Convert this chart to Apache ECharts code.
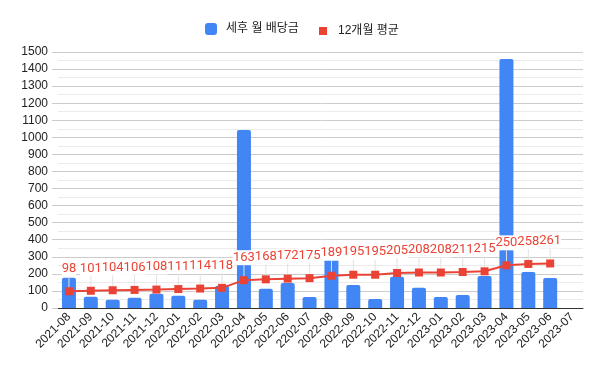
<!DOCTYPE html>
<html><head><meta charset="utf-8">
<script src="https://cdn.jsdelivr.net/npm/echarts@6/dist/echarts.min.js"></script>
<style>html,body{margin:0;padding:0;background:#fff}#c{width:600px;height:371px}</style>
</head><body><div id="c"></div>
<script>
const categories = ['2021-08','2021-09','2021-10','2021-11','2021-12','2022-01','2022-02','2022-03','2022-04','2022-05','2022-06','2202-07','2022-08','2022-09','2022-10','2022-11','2022-12','2023-01','2023-02','2023-03','2023-04','2023-05','2023-06','2023-07'];
const dividends = [177,66,49,60,84,72,49,131,1043,113,146,64,285,135,53,183,119,64,76,187,1459,211,176,null];
const avg12 = [98,101,104,106,108,111,114,118,163,168,172,175,189,195,195,205,208,208,211,215,250,258,261,null];
const yTicks = {min:0, max:1500, interval:100};

const chart = echarts.init(document.getElementById('c'));
const font = 'Arial, "Liberation Sans", "Noto Sans CJK KR", sans-serif';
chart.setOption({
  animation:false,
  textStyle:{fontFamily:font},
  legend:[
    {data:['세후 월 배당금'], left:200, top:18, itemWidth:12, itemHeight:12, icon:'roundRect',
     textStyle:{fontSize:12,color:'#222',fontFamily:font, padding:[0,0,0,4]}},
    {data:['12개월 평균'], left:314, top:20, itemWidth:8, itemHeight:8, icon:'rect',
     textStyle:{fontSize:12,color:'#222',fontFamily:font, padding:[0,0,0,6]}}
  ],
  grid:{left:58, right:17, top:52, bottom:63},
  xAxis:{type:'category', data:categories,
    axisLine:{lineStyle:{color:'#333'}}, axisTick:{show:false},
    axisLabel:{rotate:45, fontSize:12, color:'#222', interval:0, margin:7}},
  yAxis:{type:'value', min:yTicks.min, max:yTicks.max, interval:yTicks.interval,
    axisLine:{show:false}, axisTick:{show:true, length:6, lineStyle:{color:'#ccc'}},
    axisLabel:{fontSize:12, color:'#222', margin:10, formatter:v=>String(v)},
    splitLine:{lineStyle:{color:'#ccc'}},
    minorTick:{show:false, splitNumber:2},
    minorSplitLine:{show:true, lineStyle:{color:'#ebebeb'}}},
  series:[
    {name:'세후 월 배당금', type:'bar', data:dividends, barWidth:'64%',
     itemStyle:{color:'#4285F4', borderRadius:[2,2,0,0]}, z:2},
    {name:'12개월 평균', type:'line', data:avg12, z:3,
     symbol:'rect', symbolSize:8,
     lineStyle:{color:'#EA4335', width:2}, itemStyle:{color:'#EA4335'},
     label:{show:true, position:'top', distance:4, color:'#EA4335', fontSize:13,
       fontFamily:'Roboto, Arial, sans-serif', backgroundColor:'#fff', padding:[1,0,1,0]},
     labelLayout:{dy:-7},
     labelLine:{show:true, lineStyle:{color:'#e2e2e2', width:1}}}
  ]
});
</script></body></html>
